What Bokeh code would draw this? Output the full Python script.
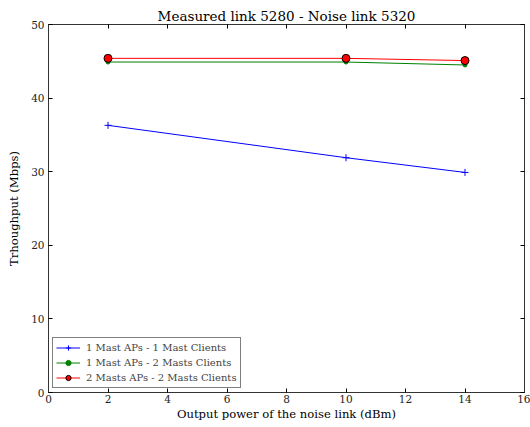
from bokeh.plotting import figure
from bokeh.models import Range1d, LinearAxis, FixedTicker, Legend, LegendItem
from bokeh.embed import file_html
from bokeh.resources import INLINE

x_vals = [2, 10, 14]
s1 = [36.3, 31.9, 29.9]
s2 = [44.9, 44.9, 44.5]
s3 = [45.4, 45.4, 45.1]
names = ["1 Mast APs - 1 Mast Clients", "1 Mast APs - 2 Masts Clients", "2 Masts APs - 2 Masts Clients"]
x_ticks = list(range(0, 17, 2))
y_ticks = list(range(0, 51, 10))

FONT = "DejaVu Serif"

p = figure(width=530, height=427, output_backend="svg", toolbar_location=None,
           x_range=Range1d(0, 16), y_range=Range1d(0, 50),
           min_border_left=48, min_border_right=6, min_border_top=24, min_border_bottom=35)
p.grid.visible = False
p.outline_line_color = "#333333"
p.title.text = "Measured link 5280 - Noise link 5320"
p.title.align = "center"
p.title.text_font = FONT
p.title.text_font_style = "normal"
p.title.text_font_size = "13.5px"
p.title.text_color = "black"
p.title.offset = 0
p.title.standoff = 2

l1 = p.line(x_vals, s1, color="blue", line_width=1)
m1 = p.scatter(x_vals, s1, marker="cross", color="blue", size=7)
l2 = p.line(x_vals, s2, color="green", line_width=1)
m2 = p.scatter(x_vals, s2, marker="circle", color="green", size=4)
l3 = p.line(x_vals, s3, color="red", line_width=1)
m3 = p.scatter(x_vals, s3, marker="circle", fill_color="red", line_color="black", size=8)

for ax in [p.xaxis[0], p.yaxis[0]]:
    ax.major_label_text_font = FONT
    ax.major_label_text_font_size = "10.5px"
    ax.axis_label_text_font = FONT
    ax.axis_label_text_font_size = "11.6px"
    ax.axis_label_text_font_style = "normal"
    ax.major_tick_in = 4
    ax.major_tick_out = 0
    ax.minor_tick_line_color = None
    ax.axis_line_color = "#333333"
    ax.major_tick_line_color = "black"
    ax.major_label_text_color = "#222222"
    ax.axis_label_text_color = "black"

p.xaxis[0].ticker = FixedTicker(ticks=x_ticks)
p.yaxis[0].ticker = FixedTicker(ticks=y_ticks)
p.xaxis[0].axis_label = "Output power of the noise link (dBm)"
p.yaxis[0].axis_label = "Trhoughput (Mbps)"
p.xaxis[0].axis_label_standoff = 1
p.yaxis[0].axis_label_standoff = 7
p.xaxis[0].major_label_standoff = 2
p.yaxis[0].major_label_standoff = 4

top = LinearAxis(ticker=FixedTicker(ticks=x_ticks), major_label_overrides={t: "" for t in x_ticks},
                 major_tick_in=4, major_tick_out=0, minor_tick_line_color=None,
                 axis_line_color="#333333", major_label_standoff=0)
right = LinearAxis(ticker=FixedTicker(ticks=y_ticks), major_label_overrides={t: "" for t in y_ticks},
                   major_tick_in=4, major_tick_out=0, minor_tick_line_color=None,
                   axis_line_color="#333333", major_label_standoff=0)
p.add_layout(top, "above")
p.add_layout(right, "right")

legend = Legend(items=[LegendItem(label=names[0], renderers=[l1, m1]),
                       LegendItem(label=names[1], renderers=[l2, m2]),
                       LegendItem(label=names[2], renderers=[l3, m3])],
                location="bottom_left")
legend.label_text_font = FONT
legend.label_text_font_size = "10px"
legend.glyph_height = 13
legend.glyph_width = 24
legend.spacing = 2
legend.padding = 3
legend.margin = 4
legend.label_height = 13
legend.border_line_color = "black"
legend.label_standoff = 6
p.add_layout(legend)

open("out.html", "w").write(file_html(p, INLINE))
